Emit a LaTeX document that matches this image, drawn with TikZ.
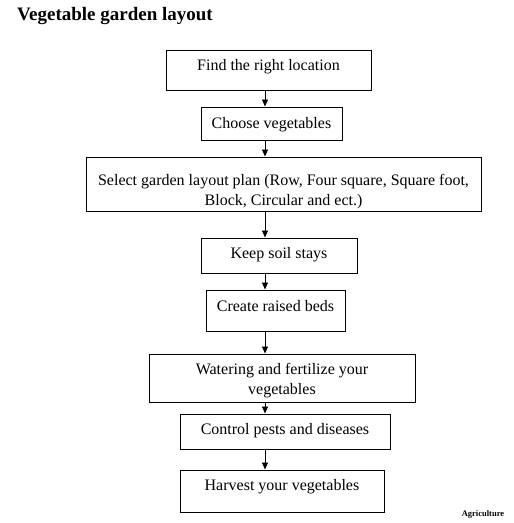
\documentclass[tikz,border=0pt]{standalone}
\usepackage{fontspec}
\setmainfont{Liberation Serif}
\usetikzlibrary{arrows.meta}
\begin{document}
\begin{tikzpicture}[x=1pt,y=-1pt,
  box/.style={draw=black,line width=1pt,inner sep=0pt},
  txt/.style={font=\fontsize{16}{20}\selectfont,align=center,inner sep=0pt},
  arr/.style={line width=0.9pt,-{Triangle[length=7pt,width=6pt]}}]
\useasboundingbox[fill=white] (0,0) rectangle (514,523);
\node[anchor=base west,font=\fontsize{19}{21}\selectfont\bfseries,inner sep=0pt] (title) at (17,20) {Vegetable garden layout};
\coordinate (axis) at (265,0);
% boxes
\node[box,minimum width=205pt,minimum height=40pt] (b1) at (268.5,70) {};
\node[box,minimum width=141pt,minimum height=33pt] (b2) at (271.5,123.5) {};
\node[box,minimum width=395pt,minimum height=54pt] (b3) at (283.5,184) {};
\node[box,minimum width=156pt,minimum height=35pt] (b4) at (279,255.5) {};
\node[box,minimum width=139pt,minimum height=41pt] (b5) at (275.5,310.5) {};
\node[box,minimum width=266pt,minimum height=48pt] (b6) at (282,378) {};
\node[box,minimum width=210pt,minimum height=35pt] (b7) at (285,431.5) {};
\node[box,minimum width=204pt,minimum height=42pt] (b8) at (282,491) {};
% texts
\node[txt] (t1) at (268.5,67) {Find the right location};
\node[txt] (t2) at (271.5,124.5) {Choose vegetables};
\node[txt] (t3) at (283.5,191.5) {Select garden layout plan (Row, Four square, Square foot,\\Block, Circular and ect.)};
\node[txt] (t4) at (279,254.5) {Keep soil stays};
\node[txt] (t5) at (275.5,306.5) {Create raised beds};
\node[txt] (t6) at (282,380.5) {Watering and fertilize your\\vegetables};
\node[txt] (t7) at (285,430.5) {Control pests and diseases};
\node[txt] (t8) at (282,486.5) {Harvest your vegetables};
% arrows
\draw[arr] (b1.south -| axis) -- (b2.north -| axis);
\draw[arr] (b2.south -| axis) -- (b3.north -| axis);
\draw[arr] (b3.south -| axis) -- (b4.north -| axis);
\draw[arr] (b4.south -| axis) -- (b5.north -| axis);
\draw[arr] (b5.south -| axis) -- (b6.north -| axis);
\draw[arr] (b6.south -| axis) -- (b7.north -| axis);
\draw[arr] (b7.south -| axis) -- (b8.north -| axis);
\node[font=\fontsize{8.5}{8.5}\selectfont\bfseries,inner sep=0pt] (wm) at (483,514) {Agriculture};
\end{tikzpicture}
\end{document}
